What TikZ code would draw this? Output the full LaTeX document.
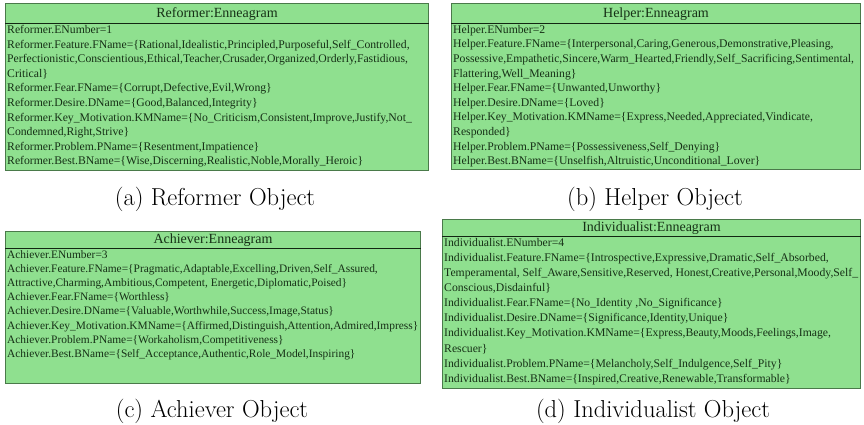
\documentclass[tikz,border=0pt]{standalone}
\usepackage{fontspec}
\newfontfamily\boxfont{Liberation Serif}
\definecolor{boxfill}{HTML}{8FE08F}
\definecolor{boxline}{HTML}{4A7A4A}
\definecolor{boxtext}{HTML}{163016}
\tikzset{
  objbox/.style={draw=boxline, line width=1pt, fill=boxfill, anchor=north west, inner sep=0pt},
  titlerule/.style={draw=boxtext!80!black, line width=1pt},
  objtitle/.style={font=\boxfont\fontsize{14}{16}\selectfont, text=boxtext, anchor=center, inner sep=0pt},
  objbody/.style={font=\boxfont\fontsize{11.7}{#1}\selectfont, text=boxtext, anchor=north west, align=left, inner sep=0pt},
  objbody/.default=14.6pt,
  objbodysmall/.style={font=\boxfont\fontsize{11.4}{14.2}\selectfont, text=boxtext, anchor=north west, align=left, inner sep=0pt},
  subcap/.style={font=\fontsize{24.5}{28}\selectfont, inner sep=0pt}
}
\begin{document}
\begin{tikzpicture}[x=1pt,y=1pt]
\useasboundingbox (0,0) rectangle (864,-424);
\fill[white] (0,0) rectangle (864,-424);

% (a) Reformer
\node[objbox, minimum width=423pt, minimum height=167pt] (boxA) at (5,-3) {};
\draw[titlerule] ([yshift=-20pt]boxA.north west) -- ([yshift=-20pt]boxA.north east);
\node[objtitle] (titleA) at ([yshift=-11pt]boxA.north) {Reformer:Enneagram};
\node[objbody] (bodyA) at ([xshift=2pt,yshift=-22pt]boxA.north west) {%
Reformer.ENumber=1\\
Reformer.Feature.FName=\{Rational,Idealistic,Principled,Purposeful,Self\_Controlled,\\
Perfectionistic,Conscientious,Ethical,Teacher,Crusader,Organized,Orderly,Fastidious,\\
Critical\}\\
Reformer.Fear.FName=\{Corrupt,Defective,Evil,Wrong\}\\
Reformer.Desire.DName=\{Good,Balanced,Integrity\}\\
Reformer.Key\_Motivation.KMName=\{No\_Criticism,Consistent,Improve,Justify,Not\_\\
Condemned,Right,Strive\}\\
Reformer.Problem.PName=\{Resentment,Impatience\}\\
Reformer.Best.BName=\{Wise,Discerning,Realistic,Noble,Morally\_Heroic\}};
\node[subcap] (capA) at (215,-199) {(a) Reformer Object};

% (b) Helper
\node[objbox, minimum width=409pt, minimum height=166pt] (boxB) at (451,-3) {};
\draw[titlerule] ([yshift=-20pt]boxB.north west) -- ([yshift=-20pt]boxB.north east);
\node[objtitle] (titleB) at ([yshift=-11pt]boxB.north) {Helper:Enneagram};
\node[objbody] (bodyB) at ([xshift=2pt,yshift=-22pt]boxB.north west) {%
Helper.ENumber=2\\
Helper.Feature.FName=\{Interpersonal,Caring,Generous,Demonstrative,Pleasing,\\
Possessive,Empathetic,Sincere,Warm\_Hearted,Friendly,Self\_Sacrificing,Sentimental,\\
Flattering,Well\_Meaning\}\\
Helper.Fear.FName=\{Unwanted,Unworthy\}\\
Helper.Desire.DName=\{Loved\}\\
Helper.Key\_Motivation.KMName=\{Express,Needed,Appreciated,Vindicate,\\
Responded\}\\
Helper.Problem.PName=\{Possessiveness,Self\_Denying\}\\
Helper.Best.BName=\{Unselfish,Altruistic,Unconditional\_Lover\}};
\node[subcap] (capB) at (655,-199) {(b) Helper Object};

% (c) Achiever
\node[objbox, minimum width=415pt, minimum height=152pt] (boxC) at (5,-231) {};
\draw[titlerule] ([yshift=-17pt]boxC.north west) -- ([yshift=-17pt]boxC.north east);
\node[objtitle] (titleC) at ([yshift=-9pt]boxC.north) {Achiever:Enneagram};
\node[objbodysmall] (bodyC) at ([xshift=2pt,yshift=-19pt]boxC.north west) {%
Achiever.ENumber=3\\
Achiever.Feature.FName=\{Pragmatic,Adaptable,Excelling,Driven,Self\_Assured,\\
Attractive,Charming,Ambitious,Competent, Energetic,Diplomatic,Poised\}\\
Achiever.Fear.FName=\{Worthless\}\\
Achiever.Desire.DName=\{Valuable,Worthwhile,Success,Image,Status\}\\
Achiever.Key\_Motivation.KMName=\{Affirmed,Distinguish,Attention,Admired,Impress\}\\
Achiever.Problem.PName=\{Workaholism,Competitiveness\}\\
Achiever.Best.BName=\{Self\_Acceptance,Authentic,Role\_Model,Inspiring\}};
\node[subcap] (capC) at (212,-411) {(c) Achiever Object};

% (d) Individualist
\node[objbox, minimum width=418pt, minimum height=169pt] (boxD) at (442,-219) {};
\draw[titlerule] ([yshift=-17pt]boxD.north west) -- ([yshift=-17pt]boxD.north east);
\node[objtitle] (titleD) at ([yshift=-9pt]boxD.north) {Individualist:Enneagram};
\node[objbody=15.1pt] (bodyD) at ([xshift=2pt,yshift=-19pt]boxD.north west) {%
Individualist.ENumber=4\\
Individualist.Feature.FName=\{Introspective,Expressive,Dramatic,Self\_Absorbed,\\
Temperamental, Self\_Aware,Sensitive,Reserved, Honest,Creative,Personal,Moody,Self\_\\
Conscious,Disdainful\}\\
Individualist.Fear.FName=\{No\_Identity ,No\_Significance\}\\
Individualist.Desire.DName=\{Significance,Identity,Unique\}\\
Individualist.Key\_Motivation.KMName=\{Express,Beauty,Moods,Feelings,Image,\\
Rescuer\}\\
Individualist.Problem.PName=\{Melancholy,Self\_Indulgence,Self\_Pity\}\\
Individualist.Best.BName=\{Inspired,Creative,Renewable,Transformable\}};
\node[subcap] (capD) at (653,-411) {(d) Individualist Object};
\end{tikzpicture}
\end{document}
